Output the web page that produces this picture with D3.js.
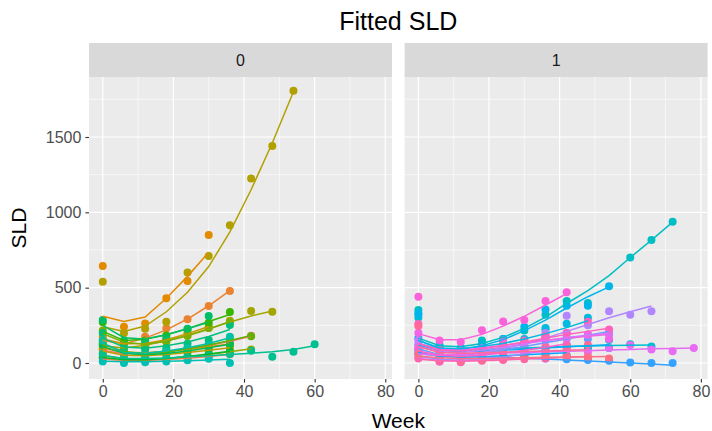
<!DOCTYPE html>
<html>
<head>
<meta charset="utf-8">
<script src="https://cdn.jsdelivr.net/npm/d3@7"></script>
<style>
  body { margin: 0; background: #fff; }
  svg { display: block; font-family: "Liberation Sans", Arial, sans-serif; }
</style>
</head>
<body>
<svg id="chart" width="712" height="431"></svg>
<script>
'use strict';

// visit weeks; every subject's values are aligned on this grid
const weeks = [0, 6, 12, 18, 24, 30, 36, 42, 48, 54, 60, 66, 72, 78];
const subjectCount = 40;
const panelLabels = ["0", "1"];
const xTicks = [0, 20, 40, 60, 80];
const xMinor = [10, 30, 50, 70];
const yTicks = [0, 500, 1000, 1500];
const yMinor = [250, 750, 1250, 1750];

// arm 0
const arm0Ids = [0, 1, 2, 3, 4, 5, 7, 8, 6, 9, 10, 11, 12, 13, 14, 15, 16, 17, 18, 19];
const arm0Obs = [
    [95, 55, 60, 80, 95, 110, 130, 181],
    [30, 12, 15, 22, 30, 42, 58],
    [160, 110, 175, 230, 290, 378, 478],
    [643, 240, 262, 429, 545, 849],
    [110, 70, 58, 75, 88, 104, 120],
    [175, 125, 118, 150, 198, 245],
    [540, 198, 228, 274, 600, 710, 914, 1225, 1440, 1807],
    [130, 95, 110, 140, 190, 232, 280, 345, 340],
    [88, 48, 45, 58, 70, 84, 100],
    [60, 22, 15, 25, 40, 55, 70, 90],
    [215, 130, 112, 148, 180, 232, 270],
    [140, 72, 52, 70, 98, 122, 152, 178],
    [270, 140, 150, 182, 222, 268, 338],
    [40, 18, 20, 28, 44, 60, 77],
    [120, 60, 48, 62, 80, 100, 125],
    [285, 150, 140, 162, 228, 312],
    [200, 100, 88, 100, 128, 152, 252],
    [62, 20, 25, 30, 40, 50, 60, 82, 42, 75, 124],
    [150, 60, 50, 78, 100, 122, 175],
    [10, 0, 5, 10, 18, 28, 0]
];
const arm0Fit = [
    [85, 62, 64, 76, 94, 116, 145, 178],
    [26, 16, 17, 23, 32, 44, 58],
    [150, 128, 165, 220, 292, 380, 480],
    [310, 275, 305, 430, 575, 735],
    [100, 72, 68, 77, 92, 108, 126],
    [160, 128, 130, 155, 195, 242],
    [240, 210, 245, 340, 470, 640, 870, 1150, 1460, 1800],
    [115, 100, 118, 148, 185, 228, 272, 312, 345],
    [80, 52, 48, 57, 69, 84, 101],
    [50, 26, 22, 30, 42, 57, 74, 94],
    [195, 138, 125, 145, 180, 224, 275],
    [125, 76, 62, 72, 94, 120, 150, 182],
    [210, 150, 158, 188, 228, 275, 322],
    [36, 22, 22, 30, 44, 60, 78],
    [110, 64, 55, 63, 80, 101, 124],
    [250, 168, 160, 188, 228, 270],
    [165, 106, 98, 114, 140, 176, 222],
    [52, 30, 30, 34, 41, 49, 57, 65, 75, 90, 115],
    [132, 70, 64, 80, 102, 130, 168],
    [12, 8, 8, 11, 15, 20, 25]
];

// arm 1
const arm1Ids = [20, 21, 22, 23, 24, 25, 26, 27, 28, 29, 30, 31, 32, 33, 34, 35, 36, 37, 38, 39];
const arm1Obs = [
    [352, 118, 100, 150, 160, 215, 320, 412, 398, null, 701, 816, 938],
    [300, 100, 80, 100, 90, 110, 220, 110, 100, 153, 125, 110],
    [320, 110, 90, 120, 140, 160, 233, 260, 300],
    [330, 90, 95, 120, 160, 240, 355, 380, 380, 510],
    [164, 80, 60, 90, 100, 90, 170, 120, 110, 100],
    [90, 40, 30, 45, 55, 70, 60, 50],
    [70, 30, 40, 30, 35, 45, 30, 25, 20, 15, 4, 0, 0],
    [120, 50, 40, 60, 80, 120, 150, 170, 160, 200],
    [60, 20, 10, 25, 40, 60, 90],
    [120, 60, 50, 70, 90, 130, 200, 314, 250, 343, 321, 343],
    [150, 70, 60, 80, 100, 140, 180, 160, 190, 190],
    [40, 10, 15, 20, 25, 35],
    [90, 40, 50, 60, 70, 60, 80, 90, 70, 100, 120, 90, 78, 100],
    [200, 90, 80, 100, 150, 130, 170, 200, 190, 160],
    [440, 150, 140, 218, 275, 286, 412, 469],
    [100, 50, 40, 55, 70, 90, 110, 120],
    [259, 90, 70, 90, 120, 150, 180, 200, 274, 223],
    [30, 10, 5, 15, 20, 25, 30, 40, 35],
    [245, 80, 60, 70, 80, 90, 100, 110, 120],
    [60, 30, 20, 25, 35, 40, 50, 45, 40, 30]
];
const arm1Fit = [
    [165, 115, 108, 130, 170, 230, 305, 395, 480, 580, 700, 815, 935],
    [130, 90, 85, 90, 95, 100, 105, 110, 113, 116, 118, 120],
    [150, 100, 95, 110, 130, 160, 195, 235, 280],
    [150, 95, 92, 115, 155, 215, 285, 365, 440, 505],
    [120, 85, 75, 80, 85, 92, 100, 108, 115, 122],
    [70, 45, 38, 42, 48, 55, 62, 68],
    [60, 52, 47, 42, 37, 32, 26, 20, 14, 7, 0, -7, -15],
    [95, 55, 50, 65, 85, 110, 135, 160, 185, 210],
    [45, 25, 18, 25, 40, 60, 85],
    [60, 50, 55, 70, 95, 125, 165, 210, 255, 300, 340, 378],
    [110, 75, 70, 85, 105, 128, 150, 170, 185, 198],
    [30, 18, 17, 20, 26, 34],
    [60, 55, 58, 62, 66, 70, 74, 78, 82, 86, 90, 94, 97, 100],
    [130, 90, 85, 100, 118, 135, 150, 165, 178, 190],
    [195, 155, 155, 190, 245, 310, 385, 460],
    [80, 52, 45, 52, 66, 85, 105, 128],
    [130, 85, 80, 95, 115, 140, 165, 190, 210, 230],
    [25, 15, 12, 15, 20, 26, 32, 38, 44],
    [110, 70, 65, 68, 72, 76, 80, 84, 88],
    [45, 35, 30, 30, 32, 35, 38, 40, 42, 44]
];

// ggplot-like hue colour: polar LUV (l = 65, c = 100) to sRGB
function hueColor(h) {
    const L = 65, C = 100, rad = h * Math.PI / 180;
    const u = C * Math.cos(rad), v = C * Math.sin(rad);
    const Xn = 95.047, Yn = 100, Zn = 108.883;
    const den = Xn + 15 * Yn + 3 * Zn;
    const un = 4 * Xn / den, vn = 9 * Yn / den;
    const Y = Yn * Math.pow((L + 16) / 116, 3);
    const up = u / (13 * L) + un, vp = v / (13 * L) + vn;
    const X = 9 * Y * up / (4 * vp);
    const Z = Y * (12 - 3 * up - 20 * vp) / (4 * vp);
    const x = X / 100, y = Y / 100, z = Z / 100;
    const lin = [
        3.2404542 * x - 1.5371385 * y - 0.4985314 * z,
        -0.9692660 * x + 1.8760108 * y + 0.0415560 * z,
        0.0556434 * x - 0.2040259 * y + 1.0572252 * z
    ];
    const rgb = lin.map(c => {
        const g = c <= 0.0031308 ? 12.92 * c : 1.055 * Math.pow(c, 1 / 2.4) - 0.055;
        return Math.round(255 * Math.max(0, Math.min(1, g)));
    });
    return d3.rgb(rgb[0], rgb[1], rgb[2]).formatHex();
}
const color = id => hueColor(15 + 360 * id / subjectCount);

const panelTop = 77, panelBottom = 379, stripTop = 43;
const panelWidth = 303;
const panelX = [89, 404.6];
const tickFont = 16;

const svg = d3.select("#chart");

const allVals = [].concat(...arm0Obs, ...arm0Fit, ...arm1Obs, ...arm1Fit).filter(v => v != null);
const xExt = [0, d3.max([arm0Obs, arm1Obs], arr => d3.max(arr, s => weeks[s.length - 1]))];
const yExt = d3.extent(allVals);
const xPad = (xExt[1] - xExt[0]) * 0.05, yPad = (yExt[1] - yExt[0]) * 0.05;

const xScale = d3.scaleLinear().domain([xExt[0] - xPad, xExt[1] + xPad]).range([0, panelWidth]);
const yScale = d3.scaleLinear().domain([yExt[0] - yPad, yExt[1] + yPad]).range([panelBottom, panelTop]);

const line = d3.line()
    .defined(d => d.v != null)
    .x(d => xScale(d.w))
    .y(d => yScale(d.v));

const toPoints = s => s.map((v, i) => ({ w: weeks[i], v: v }));

const panels = [
    { label: panelLabels[0], ids: arm0Ids, obs: arm0Obs, fit: arm0Fit },
    { label: panelLabels[1], ids: arm1Ids, obs: arm1Obs, fit: arm1Fit }
];

function styleAxis(sel) {
    sel.select(".domain").remove();
    sel.selectAll("line").attr("stroke", "#333333").attr("stroke-width", 1.1);
    sel.selectAll("text").attr("fill", "#4D4D4D").attr("font-size", tickFont)
        .style("font-family", "'Liberation Sans', Arial, sans-serif");
}

panels.forEach((p, k) => {
    const g = svg.append("g").attr("transform", "translate(" + panelX[k] + ",0)");

    g.append("rect")
        .attr("x", 0).attr("y", panelTop)
        .attr("width", panelWidth).attr("height", panelBottom - panelTop)
        .attr("fill", "#EBEBEB");

    // grid
    g.selectAll(".xminor").data(xMinor).enter().append("line")
        .attr("x1", d => xScale(d)).attr("x2", d => xScale(d))
        .attr("y1", panelTop).attr("y2", panelBottom)
        .attr("stroke", "#fff").attr("stroke-width", 0.6);
    g.selectAll(".yminor").data(yMinor).enter().append("line")
        .attr("x1", 0).attr("x2", panelWidth)
        .attr("y1", d => yScale(d)).attr("y2", d => yScale(d))
        .attr("stroke", "#fff").attr("stroke-width", 0.6);
    g.selectAll(".xmajor").data(xTicks).enter().append("line")
        .attr("x1", d => xScale(d)).attr("x2", d => xScale(d))
        .attr("y1", panelTop).attr("y2", panelBottom)
        .attr("stroke", "#fff").attr("stroke-width", 1.2);
    g.selectAll(".ymajor").data(yTicks).enter().append("line")
        .attr("x1", 0).attr("x2", panelWidth)
        .attr("y1", d => yScale(d)).attr("y2", d => yScale(d))
        .attr("stroke", "#fff").attr("stroke-width", 1.2);

    // strip
    g.append("rect")
        .attr("x", 0).attr("y", stripTop)
        .attr("width", panelWidth).attr("height", panelTop - stripTop)
        .attr("fill", "#D9D9D9");
    g.append("text")
        .attr("x", panelWidth / 2).attr("y", (stripTop + panelTop) / 2)
        .attr("dy", "0.35em")
        .attr("text-anchor", "middle")
        .attr("font-size", tickFont)
        .attr("fill", "#1A1A1A")
        .text(p.label);

    // observed points
    p.obs.forEach((s, j) => {
        g.selectAll(null)
            .data(toPoints(s).filter(d => d.v != null))
            .enter().append("circle")
            .attr("cx", d => xScale(d.w))
            .attr("cy", d => yScale(d.v))
            .attr("r", 4)
            .attr("fill", color(p.ids[j]));
    });

    // fitted lines
    p.fit.forEach((s, j) => {
        g.append("path")
            .attr("d", line(toPoints(s)))
            .attr("fill", "none")
            .attr("stroke", color(p.ids[j]))
            .attr("stroke-width", 1.5);
    });

    // x axis
    const xa = g.append("g")
        .attr("transform", "translate(0," + panelBottom + ")")
        .call(d3.axisBottom(xScale).tickValues(xTicks).tickSize(3.6).tickPadding(3));
    styleAxis(xa);

    if (k === 0) {
        const ya = g.append("g")
            .call(d3.axisLeft(yScale).tickValues(yTicks).tickFormat(d3.format("d"))
                .tickSize(3.6).tickPadding(4));
        styleAxis(ya);
    }
});

// titles
const midX = (panelX[0] + panelX[1] + panelWidth) / 2;
svg.append("text")
    .attr("x", midX).attr("y", 29.5)
    .attr("text-anchor", "middle")
    .attr("font-size", 25)
    .attr("fill", "#000")
    .text("Fitted SLD");
svg.append("text")
    .attr("x", midX).attr("y", 428)
    .attr("text-anchor", "middle")
    .attr("font-size", 21)
    .attr("fill", "#000")
    .text("Week");
svg.append("text")
    .attr("transform", "translate(26," + (panelTop + panelBottom) / 2 + ") rotate(-90)")
    .attr("text-anchor", "middle")
    .attr("font-size", 21)
    .attr("fill", "#000")
    .text("SLD");
</script>
</body>
</html>
